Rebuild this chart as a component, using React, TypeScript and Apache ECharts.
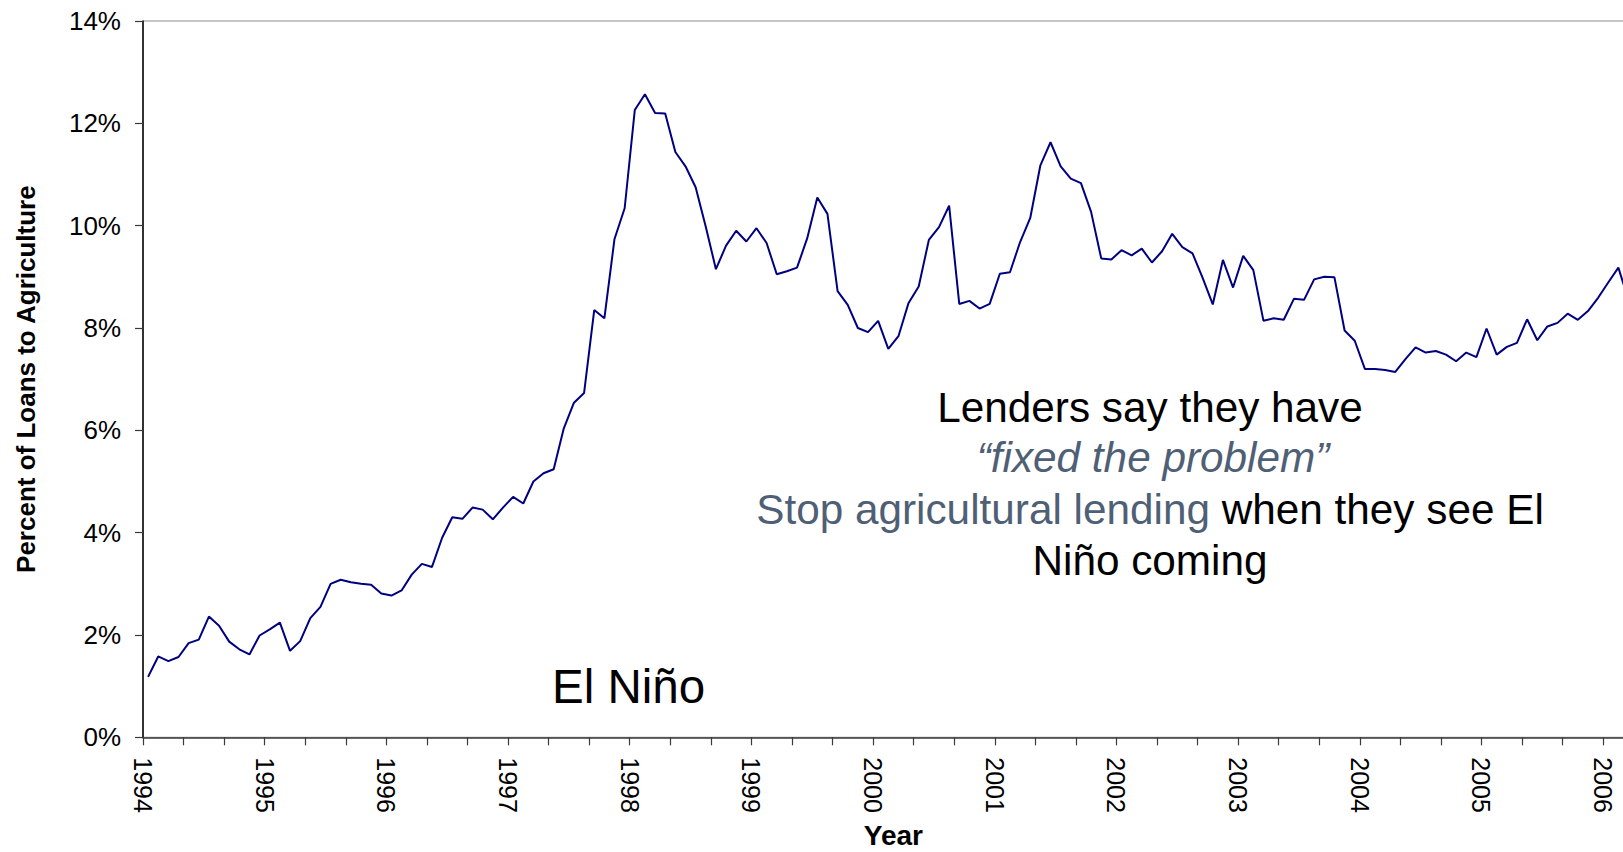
import React, { useEffect, useRef } from "react";
import * as echarts from "echarts";

// Tick labels (one per January)
const yearLabels = ["1994", "1995", "1996", "1997", "1998", "1999", "2000", "2001", "2002", "2003", "2004", "2005", "2006"];

// Monthly percent of loans to agriculture
const v1994 = [1.18, 1.58, 1.49, 1.57, 1.84, 1.91, 2.36, 2.18, 1.87, 1.72, 1.62, 1.99];
const v1995 = [2.11, 2.24, 1.69, 1.88, 2.33, 2.55, 3.0, 3.08, 3.03, 3.0, 2.98, 2.81];
const v1996 = [2.77, 2.87, 3.18, 3.39, 3.33, 3.9, 4.3, 4.27, 4.49, 4.45, 4.26, 4.49];
const v1997 = [4.7, 4.57, 5.0, 5.16, 5.24, 6.04, 6.54, 6.73, 8.35, 8.19, 9.74, 10.34];
const v1998 = [12.26, 12.57, 12.2, 12.19, 11.44, 11.16, 10.75, 9.98, 9.15, 9.61, 9.9, 9.69];
const v1999 = [9.95, 9.66, 9.05, 9.11, 9.18, 9.75, 10.55, 10.23, 8.72, 8.45, 8.0, 7.92];
const v2000 = [8.14, 7.59, 7.84, 8.49, 8.81, 9.72, 9.97, 10.39, 8.47, 8.53, 8.38, 8.47];
const v2001 = [9.06, 9.09, 9.68, 10.15, 11.18, 11.63, 11.16, 10.92, 10.83, 10.27, 9.36, 9.34];
const v2002 = [9.52, 9.42, 9.55, 9.28, 9.5, 9.84, 9.58, 9.46, 8.98, 8.46, 9.33, 8.79];
const v2003 = [9.41, 9.13, 8.14, 8.19, 8.16, 8.57, 8.55, 8.95, 9.0, 8.99, 7.95, 7.75];
const v2004 = [7.2, 7.2, 7.18, 7.14, 7.39, 7.62, 7.52, 7.55, 7.48, 7.35, 7.52, 7.43];
const v2005 = [7.99, 7.48, 7.63, 7.71, 8.17, 7.76, 8.03, 8.1, 8.28, 8.16, 8.33, 8.59];
const v2006 = [8.89, 9.18, 8.55];

const yTicks = [0, 2, 4, 6, 8, 10, 12, 14];

const FONT = '"Liberation Sans", Arial, Helvetica, sans-serif';

export default function App() {
  const ref = useRef<HTMLDivElement>(null);

  useEffect(() => {
    const chart = echarts.init(ref.current!, null, { renderer: "svg" });
    const monthly = [
      ...v1994, ...v1995, ...v1996, ...v1997, ...v1998, ...v1999, ...v2000,
      ...v2001, ...v2002, ...v2003, ...v2004, ...v2005, ...v2006,
    ];
    const data = monthly.map((v, i) => [i + 0.5, v]);
    const monthsShown = 148;

    chart.setOption({
      animation: false,
      backgroundColor: "#fff",
      grid: {
        left: 143,
        top: 21,
        width: monthsShown * 10.14,
        height: 716.3,
        containLabel: false,
        outerBoundsMode: "none",
        show: true,
        borderColor: "#8c8c8c",
        borderWidth: 1,
        backgroundColor: "transparent",
      },
      xAxis: {
        type: "value",
        min: 0,
        max: monthsShown,
        interval: 4,
        name: "Year",
        nameLocation: "middle",
        nameGap: 84,
        nameTextStyle: { fontFamily: FONT, fontWeight: "bold", fontSize: 28, color: "#000" },
        axisLine: { show: true, lineStyle: { color: "#3a3a3a", width: 1.5 } },
        axisTick: { show: true, length: 8, lineStyle: { color: "#3a3a3a", width: 1.2 } },
        splitLine: { show: false },
        axisLabel: {
          rotate: -90,
          margin: 20,
          fontFamily: FONT,
          fontSize: 25,
          color: "#000",
          showMaxLabel: false,
          formatter: (v: number) => (v % 12 === 0 ? yearLabels[v / 12] ?? "" : ""),
        },
      },
      yAxis: {
        type: "value",
        min: yTicks[0],
        max: yTicks[yTicks.length - 1],
        interval: 2,
        name: "Percent of Loans to Agriculture",
        nameLocation: "middle",
        nameRotate: 90,
        nameGap: 104,
        nameTextStyle: { fontFamily: FONT, fontWeight: "bold", fontSize: 26, color: "#000" },
        axisLine: { show: true, lineStyle: { color: "#000", width: 1.5 } },
        axisTick: { show: true, length: 8, lineStyle: { color: "#3a3a3a", width: 1.2 } },
        splitLine: { show: false },
        axisLabel: {
          margin: 22,
          fontFamily: FONT,
          fontSize: 26,
          color: "#000",
          formatter: (v: number) => `${v}%`,
        },
      },
      series: [
        {
          type: "line",
          data,
          showSymbol: false,
          clip: true,
          lineStyle: { color: "#000080", width: 2 },
          itemStyle: { color: "#000080" },
        },
      ],
      graphic: [
        {
          type: "text",
          x: 552,
          y: 686,
          style: { text: "El Niño", fontFamily: FONT, fontSize: 47.5, fill: "#000", align: "left", verticalAlign: "middle" },
        },
        {
          type: "text",
          x: 1150,
          y: 407,
          style: { text: "Lenders say they have", fontFamily: FONT, fontSize: 42.3, fill: "#000", align: "center", verticalAlign: "middle" },
        },
        {
          type: "text",
          x: 1153,
          y: 457,
          style: {
            text: "\u201Cfixed the problem\u201D",
            fontFamily: FONT,
            fontSize: 42.3,
            fontStyle: "italic",
            fill: "#4f5f75",
            align: "center",
            verticalAlign: "middle",
          },
        },
        {
          type: "text",
          x: 1150,
          y: 509,
          style: {
            text: "{g|Stop agricultural lending}{k| when they see El}",
            fontFamily: FONT,
            fontSize: 42.3,
            align: "center",
            verticalAlign: "middle",
            rich: {
              g: { fill: "#4f5f75", fontFamily: FONT, fontSize: 42.3 },
              k: { fill: "#000", fontFamily: FONT, fontSize: 42.3 },
            },
          },
        },
        {
          type: "text",
          x: 1150,
          y: 560,
          style: { text: "Niño coming", fontFamily: FONT, fontSize: 42.3, fill: "#000", align: "center", verticalAlign: "middle" },
        },
      ],
    });
    return () => chart.dispose();
  }, []);

  return (
    <div
      style={{
        position: "fixed",
        left: 0,
        top: 0,
        width: 1623,
        height: 852,
        overflow: "hidden",
        background: "#fff",
      }}
    >
      <div ref={ref} style={{ width: 1700, height: 852 }} />
    </div>
  );
}
